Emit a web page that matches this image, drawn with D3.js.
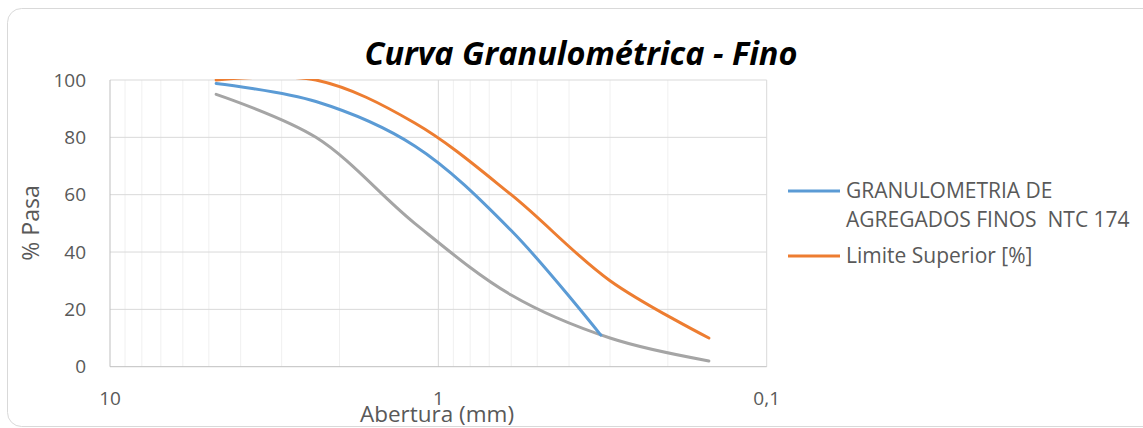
<!DOCTYPE html>
<html>
<head>
<meta charset="utf-8">
<script src="https://cdn.jsdelivr.net/npm/d3@7"></script>
<style>
  body { margin: 0; background: #fff; }
  text { font-family: "Open Sans", sans-serif; fill: #595959; }
</style>
</head>
<body>
<div class="chart"></div>
<script>
var svgWidth = 1143;
var svgHeight = 428;

// sieve openings (mm) and % passing
var sieves = [4.75, 2.36, 1.18, 0.6, 0.3, 0.15];
var blueSieves = [4.75, 2.36, 1.18, 0.6, 0.32];
var granulometria = [98.8, 92.5, 77, 47.5, 11];
var limiteSuperior = [100, 100, 85, 60, 30, 10];
var limiteInferior = [95, 80, 50, 25, 10, 2];

var yTicks = [0, 20, 40, 60, 80, 100];
var xTicks = [10, 1, 0.1];
var xTickLabels = ['10', '1', '0,1'];

var plot = {left: 110, right: 766.7, top: 80, bottom: 366.7};

var svg = d3.select('.chart')
  .append('svg')
  .attr('width', svgWidth)
  .attr('height', svgHeight);

// chart frame
svg.append('rect')
  .attr('x', 7.5).attr('y', 8.5)
  .attr('width', 1150).attr('height', 418)
  .attr('rx', 14)
  .attr('fill', '#fff')
  .attr('stroke', '#D9D9D9')
  .attr('stroke-width', 1);

var x = d3.scaleLog().domain([10, 0.1]).range([plot.left, plot.right]);
var y = d3.scaleLinear().domain([0, 100]).range([plot.bottom, plot.top]);

// minor vertical gridlines
var minor = [];
[1, 0.1].forEach(function(d) {
  for (var k = 2; k <= 9; k++) minor.push(d * k);
});
svg.append('g').selectAll('line')
  .data(minor).enter().append('line')
  .attr('x1', function(d) { return x(d); })
  .attr('x2', function(d) { return x(d); })
  .attr('y1', plot.top).attr('y2', plot.bottom)
  .attr('stroke', '#F0F0F0').attr('stroke-width', 1);

// major gridlines
svg.append('g').selectAll('line')
  .data(yTicks.slice(1)).enter().append('line')
  .attr('x1', plot.left).attr('x2', plot.right)
  .attr('y1', function(d) { return y(d); })
  .attr('y2', function(d) { return y(d); })
  .attr('stroke', '#D9D9D9').attr('stroke-width', 1);

svg.append('g').selectAll('line')
  .data(xTicks.slice(1)).enter().append('line')
  .attr('x1', function(d) { return x(d); })
  .attr('x2', function(d) { return x(d); })
  .attr('y1', plot.top).attr('y2', plot.bottom)
  .attr('stroke', '#D9D9D9').attr('stroke-width', 1);

// axis lines
svg.append('line')
  .attr('x1', plot.left).attr('x2', plot.left)
  .attr('y1', plot.top).attr('y2', plot.bottom)
  .attr('stroke', '#BFBFBF');
svg.append('line')
  .attr('x1', plot.left).attr('x2', plot.right)
  .attr('y1', plot.bottom).attr('y2', plot.bottom)
  .attr('stroke', '#BFBFBF');

// tick labels
svg.append('g').selectAll('text')
  .data(yTicks).enter().append('text')
  .attr('x', 86)
  .attr('y', function(d) { return y(d); })
  .attr('dy', '0.35em')
  .attr('text-anchor', 'end')
  .attr('font-size', 19)
  .text(function(d) { return d; });

svg.append('g').selectAll('text')
  .data(xTicks).enter().append('text')
  .attr('x', function(d) { return x(d); })
  .attr('y', 398)
  .attr('dy', '0.35em')
  .attr('text-anchor', 'middle')
  .attr('font-size', 19)
  .text(function(d, i) { return xTickLabels[i]; });

// axis titles
svg.append('text')
  .attr('x', 437).attr('y', 414)
  .attr('dy', '0.35em')
  .attr('text-anchor', 'middle')
  .attr('font-size', 22.5)
  .text('Abertura (mm)');

svg.append('text')
  .attr('transform', 'translate(31,223) rotate(-90)')
  .attr('dy', '0.35em')
  .attr('text-anchor', 'middle')
  .attr('font-size', 23)
  .text('% Pasa');

// title
svg.append('text')
  .attr('x', 581).attr('y', 54)
  .attr('dy', '0.35em')
  .attr('text-anchor', 'middle')
  .attr('font-size', 32.5)
  .attr('font-weight', 'bold')
  .attr('font-style', 'italic')
  .style('fill', '#000')
  .text('Curva Granulométrica - Fino');

// series
svg.append('clipPath').attr('id', 'plotClip')
  .append('rect')
  .attr('x', plot.left).attr('y', plot.top - 1)
  .attr('width', plot.right - plot.left)
  .attr('height', plot.bottom - plot.top + 1);

var line = d3.line()
  .x(function(d) { return x(d[0]); })
  .y(function(d) { return y(d[1]); })
  .curve(d3.curveCatmullRom.alpha(0.5));

var series = [
  {xs: sieves, ys: limiteInferior, color: '#A5A5A5'},
  {xs: sieves, ys: limiteSuperior, color: '#ED7D31'},
  {xs: blueSieves, ys: granulometria, color: '#5B9BD5'}
];

var lines = svg.append('g').attr('clip-path', 'url(#plotClip)');
series.forEach(function(s) {
  lines.append('path')
    .datum(d3.zip(s.xs, s.ys))
    .attr('d', line)
    .attr('fill', 'none')
    .attr('stroke', s.color)
    .attr('stroke-width', 3)
    .attr('stroke-linecap', 'round');
});

// legend
var legend = svg.append('g');
var legendItems = [
  {lines: ['GRANULOMETRIA DE', 'AGREGADOS FINOS  NTC 174'], color: '#5B9BD5', y: 191},
  {lines: ['Limite Superior [%]'], color: '#ED7D31', y: 256}
];
legendItems.forEach(function(item) {
  legend.append('line')
    .attr('x1', 788).attr('x2', 840)
    .attr('y1', item.y).attr('y2', item.y)
    .attr('stroke', item.color)
    .attr('stroke-width', 3);
  item.lines.forEach(function(t, i) {
    legend.append('text')
      .attr('x', 846)
      .attr('y', item.y + i * 28.5)
      .attr('dy', '0.35em')
      .attr('font-size', 21)
      .style('white-space', 'pre')
      .text(t);
  });
});
</script>
</body>
</html>
